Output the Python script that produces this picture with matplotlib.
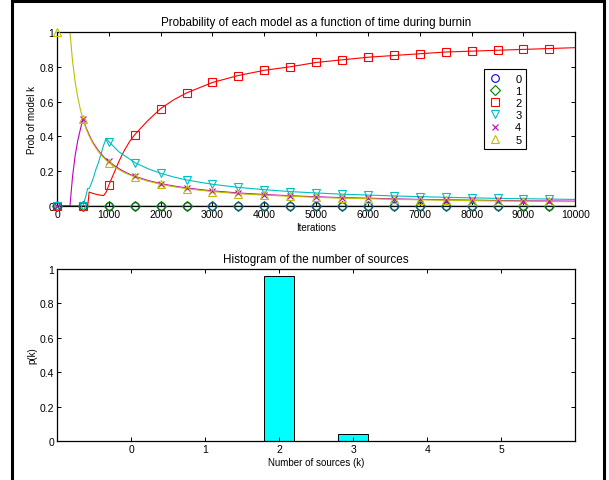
import numpy as np
import matplotlib
matplotlib.use("Agg")
import matplotlib.pyplot as plt
from matplotlib.patches import Rectangle

plt.rcParams['font.family'] = ['Liberation Sans', 'DejaVu Sans']
plt.rcParams['font.size'] = 7

# running estimate of the probability of each model during burnin
iters = [0, 250, 300, 350, 400, 450, 500, 530, 560, 590, 600, 620, 650, 700,
         750, 800, 850, 900, 950, 1000, 1100, 1200, 1300, 1400, 1500, 1750,
         2000, 2250, 2500, 2750, 3000, 3500, 4000, 4500, 5000, 5500, 6000,
         6500, 7000, 7500, 8000, 8500, 9000, 9500, 10000]

prob_k0 = [0.0] * len(iters)
prob_k1 = [0.0] * len(iters)
prob_k2 = [0, 0, 0, 0, 0, 0, 0, 0, 0, 0, 0.02, 0.08, 0.077, 0.072,
           0.068, 0.064, 0.062, 0.06, 0.08, 0.12, 0.19, 0.26, 0.32, 0.37, 0.41, 0.49,
           0.56, 0.61, 0.65, 0.68, 0.71, 0.75, 0.78, 0.80, 0.825, 0.84, 0.855,
           0.865, 0.875, 0.885, 0.89, 0.895, 0.90, 0.905, 0.91]
prob_k3 = [0, 0, 0, 0, 0, 0, 0, 0.03, 0.06, 0.10, 0.10, 0.10, 0.12, 0.16,
           0.21, 0.25, 0.30, 0.35, 0.39, 0.37, 0.34, 0.31, 0.29, 0.27, 0.25, 0.215,
           0.188, 0.167, 0.15, 0.137, 0.125, 0.107, 0.094, 0.083, 0.075, 0.068, 0.063,
           0.058, 0.054, 0.05, 0.047, 0.044, 0.042, 0.04, 0.038]
prob_k4 = [0, 0, 0.17, 0.29, 0.375, 0.44, 0.5, 0.475, 0.45, 0.43, 0.423, 0.41, 0.39, 0.363,
           0.34, 0.318, 0.30, 0.283, 0.268, 0.256, 0.233, 0.214, 0.197, 0.183, 0.171, 0.147,
           0.129, 0.115, 0.104, 0.095, 0.087, 0.075, 0.066, 0.059, 0.053, 0.048, 0.045,
           0.041, 0.038, 0.036, 0.034, 0.032, 0.030, 0.029, 0.028]
prob_k5 = [1, 1, 0.833, 0.714, 0.625, 0.556, 0.5, 0.472, 0.446, 0.424, 0.417, 0.403, 0.385, 0.357,
           0.333, 0.3125, 0.294, 0.278, 0.263, 0.25, 0.227, 0.208, 0.192, 0.179, 0.167, 0.143,
           0.125, 0.111, 0.1, 0.091, 0.083, 0.071, 0.0625, 0.056, 0.05, 0.045, 0.042,
           0.038, 0.036, 0.033, 0.031, 0.029, 0.028, 0.026, 0.025]

model_labels = ['0', '1', '2', '3', '4', '5']

# histogram of the number of sources
n_sources = [0, 1, 2, 3, 4, 5]
p_k = [0.0, 0.0, 0.96, 0.04, 0.0, 0.0]

colors = ['#0000ff', '#008000', '#ff0000', '#00bfbf', '#bf00bf', '#bfbf00']
markers = ['o', 'D', 's', 'v', 'x', '^']
msizes = [5.5, 5, 5.5, 6, 4.5, 6]

fig = plt.figure(figsize=(6.09, 4.81), dpi=100)

ax1 = fig.add_axes([0.0936, 0.5696, 0.851, 0.3618])
marks = [i for i, x in enumerate(iters) if x % 500 == 0 and x < 10000]
series = [prob_k0, prob_k1, prob_k2, prob_k3, prob_k4, prob_k5]
for k, ys in enumerate(series):
    ax1.plot(iters, ys, color=colors[k], lw=0.8)
for k, ys in enumerate(series):
    ax1.plot(np.array(iters)[marks], np.array(ys)[marks], ls='none',
             marker=markers[k], ms=msizes[k], mfc='none', mec=colors[k],
             mew=0.8, label=model_labels[k], clip_on=False, zorder=3)
ax1.plot(iters, prob_k1, color=colors[1], lw=0.9)

ax1.set_xlim(0, 10000)
ax1.set_ylim(0, 1)
ax1.set_xticks(range(0, 10001, 1000))
ax1.set_yticks([0, 0.2, 0.4, 0.6, 0.8, 1])
ax1.set_yticklabels(['0', '0.2', '0.4', '0.6', '0.8', '1'])
ax1.set_title('Probability of each model as a function of time during burnin', pad=5)
ax1.set_xlabel('Iterations', labelpad=2)
ax1.set_ylabel('Prob of model k', labelpad=2)
leg = ax1.legend(loc='upper left', bbox_to_anchor=(0.824, 0.787), borderaxespad=0,
                 fancybox=False, framealpha=1, edgecolor='black',
                 handlelength=1.2, handletextpad=1.2, labelspacing=0.2,
                 borderpad=0.4, fontsize=8)
leg.get_frame().set_linewidth(0.8)

ax2 = fig.add_axes([0.0936, 0.0811, 0.851, 0.3576])
ax2.bar(n_sources, p_k, width=0.4, color='#00ffff', edgecolor='black', lw=0.7)
ax2.set_xlim(-1, 6)
ax2.set_ylim(0, 1)
ax2.set_xticks(n_sources)
ax2.set_yticks([0, 0.2, 0.4, 0.6, 0.8, 1])
ax2.set_yticklabels(['0', '0.2', '0.4', '0.6', '0.8', '1'])
ax2.set_title('Histogram of the number of sources', pad=5)
ax2.set_xlabel('Number of sources (k)', labelpad=2)
ax2.set_ylabel('p(k)', labelpad=2)

for ax in (ax1, ax2):
    ax.tick_params(direction='in', top=True, right=True, length=3, width=0.7,
                   pad=2, labelsize=7.5)
    for s in ax.spines.values():
        s.set_linewidth(0.9)

# frame around the whole figure
fig.patches.append(Rectangle((12 / 609, -0.02), 592 / 609, 1.0158, transform=fig.transFigure,
                             fill=False, edgecolor='black', lw=2.2))

fig.savefig('out.png', dpi=100)
